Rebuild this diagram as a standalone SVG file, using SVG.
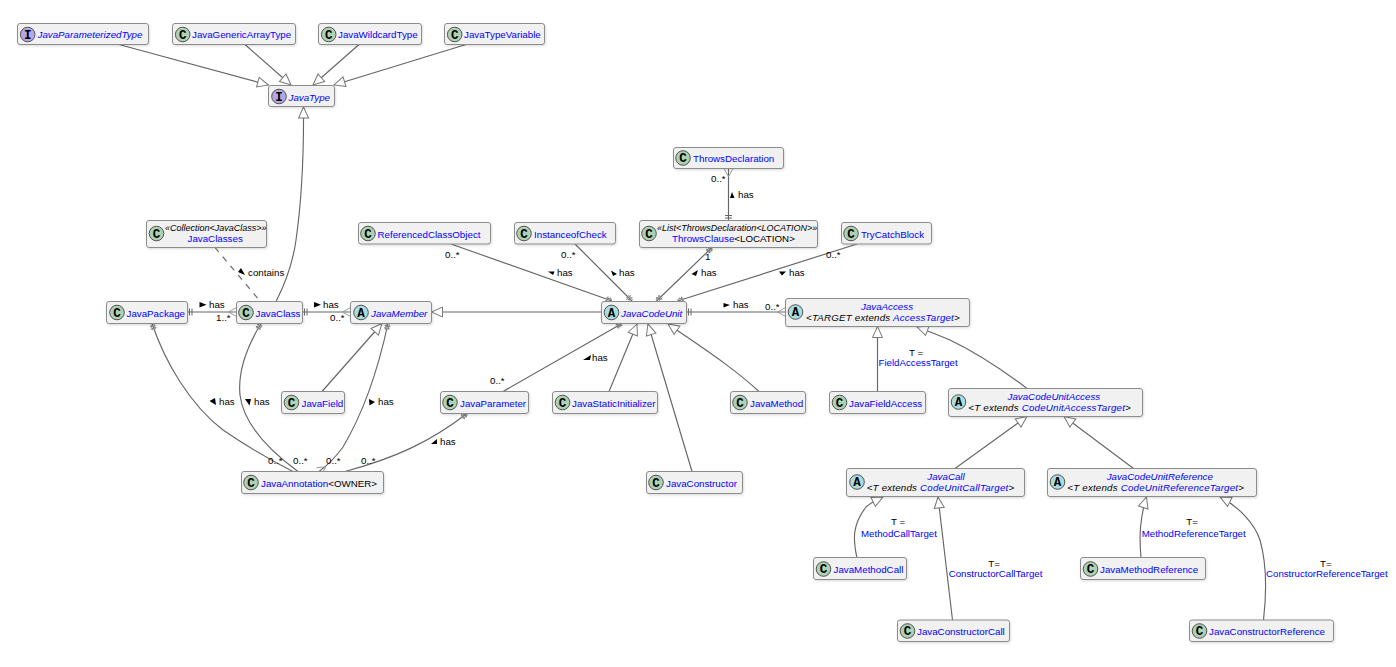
<svg xmlns="http://www.w3.org/2000/svg" width="1396" height="667" viewBox="0 0 1396 667">
<defs>
<filter id="sh" x="-10%" y="-20%" width="120%" height="150%"><feDropShadow dx="0.8" dy="1.2" stdDeviation="0.8" flood-color="#000" flood-opacity="0.14"/></filter>
<marker id="tri" markerUnits="userSpaceOnUse" markerWidth="16" markerHeight="14" refX="13" refY="7" orient="auto"><path d="M2 2 L13 7 L2 12 Z" fill="#fff" stroke="#777" stroke-width="1"/></marker>
<marker id="bars" markerUnits="userSpaceOnUse" markerWidth="12" markerHeight="12" refX="10" refY="6" orient="auto-start-reverse"><path d="M5.500 2.500V9.500M8 2.500V9.500" fill="none" stroke="#666" stroke-width="1"/></marker>
<marker id="crow" markerUnits="userSpaceOnUse" markerWidth="12" markerHeight="12" refX="10" refY="6" orient="auto-start-reverse"><path d="M2 6L10 1.500M2 6L10 10.500" fill="none" stroke="#999" stroke-width="1"/></marker>
<marker id="star" markerUnits="userSpaceOnUse" markerWidth="12" markerHeight="12" refX="10" refY="6" orient="auto-start-reverse"><path d="M5 3V9M7.500 3V9M3.500 4.500H9.500M3.500 7.500H9.500" fill="none" stroke="#8a8a8a" stroke-width="1"/></marker>
</defs>
<style>
.n{fill:#f1f1f1;stroke:#8c8c8c;stroke-width:1;filter:url(#sh)}
.t{font-family:"Liberation Sans",Arial,sans-serif;font-size:9.75px;fill:#0000ff}
.i{font-style:italic}
.k{fill:#000}
.s{font-size:9px;font-style:italic;fill:#000}
.c{stroke:#444;stroke-width:0.9}
.C{fill:#add1b2}.A{fill:#a9dcdf}.I{fill:#b4a7e5}
.g{font-family:"Liberation Mono",monospace;font-size:12.5px;font-weight:bold;fill:#000;text-anchor:middle}
.l{font-family:"Liberation Sans",Arial,sans-serif;font-size:9.75px;fill:#000}
.lk{font-family:"Liberation Sans",Arial,sans-serif;font-size:9.7px;fill:#0000ff}
#links path{fill:none;stroke:#666;stroke-width:1.15}
.d{stroke-dasharray:6 6}
.ar{fill:#000;stroke:none}
</style>
<g id="links">
<path marker-end="url(#tri)" d="M119 44.500L268.500 85"/>
<path marker-end="url(#tri)" d="M245 44.500L291 85"/>
<path marker-end="url(#tri)" d="M359 44.500L313 85"/>
<path marker-end="url(#tri)" d="M466 44.500L334 85"/>
<path marker-end="url(#tri)" d="M276 301.500C287 280 293 262 296 240C301 205 304 170 303.500 107"/>
<path class="d" d="M215 247.500L260 301"/>
<path marker-start="url(#bars)" marker-end="url(#crow)" d="M187.500 312H236.500"/>
<path marker-start="url(#bars)" marker-end="url(#crow)" d="M302.500 312H350.500"/>
<path marker-end="url(#tri)" d="M601.500 312H431.500"/>
<path marker-end="url(#tri)" d="M322 391.500L382 323.500"/>
<path marker-start="url(#star)" d="M152 323.500C165 362 190 405 223 430C245 445 270 460 293 471.500"/>
<path marker-start="url(#star)" d="M261 323.500C245 350 238 375 240 395C243 420 262 445 298 471.500"/>
<path marker-start="url(#star)" marker-end="url(#crow)" d="M388 323.500C378 370 365 410 343 447C335 458 328 465 319 471.500"/>
<path marker-start="url(#star)" d="M467 413.500C430 442 395 458 345 471.500"/>
<path marker-end="url(#star)" d="M451 244L612 301"/>
<path marker-end="url(#star)" d="M575 244L632 301"/>
<path marker-start="url(#star)" marker-end="url(#star)" d="M712 247.500L656.500 301"/>
<path marker-end="url(#star)" d="M857 244L677.500 301"/>
<path marker-start="url(#crow)" marker-end="url(#bars)" d="M728.500 168.500V220"/>
<path marker-start="url(#bars)" marker-end="url(#crow)" d="M686.500 312H785.500"/>
<path marker-start="url(#star)" d="M622 323.500L503 391.500"/>
<path marker-end="url(#tri)" d="M609 391.500L637 324"/>
<path marker-end="url(#tri)" d="M692 471.500L648 324"/>
<path marker-end="url(#tri)" d="M759 391.500C730 365 698 345 668 324"/>
<path marker-end="url(#tri)" d="M877.500 391.500V326.500"/>
<path marker-end="url(#tri)" d="M1027 388.500C1000 368 975 352 950 340C938 335 928 331 917 327"/>
<path marker-end="url(#tri)" d="M955 468.500L1027 416.500"/>
<path marker-end="url(#tri)" d="M1133.500 468.500L1064 416.500"/>
<path marker-end="url(#tri)" d="M857 558C853 540 852 525 866 507C870 503 875 501 883 497"/>
<path marker-end="url(#tri)" d="M952.500 620L938 497"/>
<path marker-end="url(#tri)" d="M1141 558C1139 535 1140 518 1146.500 497"/>
<path marker-end="url(#tri)" d="M1263.500 620C1267 590 1267 565 1260 540C1255 525 1240 507 1220 497"/>
</g>
<g id="JavaParameterizedType"><rect class="n" x="17.500" y="23.500" width="131" height="21" rx="2.500"/><circle class="c I" cx="27.700" cy="34.500" r="7.300"/><text class="g" x="27.700" y="38.500">I</text><text class="t i" x="37.500" y="38">JavaParameterizedType</text></g>
<g id="JavaGenericArrayType"><rect class="n" x="172.500" y="23.500" width="123" height="21" rx="2.500"/><circle class="c C" cx="182.700" cy="34.500" r="7.300"/><text class="g" x="182.700" y="38.500">C</text><text class="t" x="192" y="38">JavaGenericArrayType</text></g>
<g id="JavaWildcardType"><rect class="n" x="318.500" y="23.500" width="103" height="21" rx="2.500"/><circle class="c C" cx="328.700" cy="34.500" r="7.300"/><text class="g" x="328.700" y="38.500">C</text><text class="t" x="338" y="38">JavaWildcardType</text></g>
<g id="JavaTypeVariable"><rect class="n" x="444.500" y="23.500" width="100" height="21" rx="2.500"/><circle class="c C" cx="454.700" cy="34.500" r="7.300"/><text class="g" x="454.700" y="38.500">C</text><text class="t" x="464" y="38">JavaTypeVariable</text></g>
<g id="JavaType"><rect class="n" x="268.500" y="85.500" width="66" height="21" rx="2.500"/><circle class="c I" cx="279" cy="96.500" r="7.300"/><text class="g" x="279" y="100.500">I</text><text class="t i" x="288.500" y="100.500">JavaType</text></g>
<g id="JavaClasses"><rect class="n" x="146.500" y="220.500" width="120" height="27" rx="2.500"/><circle class="c C" cx="156.500" cy="233.500" r="7.300"/><text class="g" x="156.500" y="237.500">C</text><text class="t s" x="165" y="231">«Collection&lt;JavaClass&gt;»</text><text class="t" x="187.500" y="242">JavaClasses</text></g>
<g id="ReferencedClassObject"><rect class="n" x="358.500" y="222.500" width="132" height="21.500" rx="2.500"/><circle class="c C" cx="368" cy="233.500" r="7.300"/><text class="g" x="368" y="237.500">C</text><text class="t" x="377.500" y="237.500">ReferencedClassObject</text></g>
<g id="InstanceofCheck"><rect class="n" x="514.500" y="222.500" width="101" height="21.500" rx="2.500"/><circle class="c C" cx="524" cy="233.500" r="7.300"/><text class="g" x="524" y="237.500">C</text><text class="t" x="534" y="237.500">InstanceofCheck</text></g>
<g id="ThrowsDeclaration"><rect class="n" x="673.500" y="147.500" width="110" height="21" rx="2.500"/><circle class="c C" cx="683" cy="158" r="7.300"/><text class="g" x="683" y="162">C</text><text class="t" x="693" y="162">ThrowsDeclaration</text></g>
<g id="ThrowsClause"><rect class="n" x="639.500" y="220.500" width="178" height="27" rx="2.500"/><circle class="c C" cx="649" cy="233.500" r="7.300"/><text class="g" x="649" y="237.500">C</text><text class="t s" x="657" y="231">«List&lt;ThrowsDeclaration&lt;LOCATION&gt;»</text><text class="t" x="672" y="242">ThrowsClause<tspan class="k">&lt;LOCATION&gt;</tspan></text></g>
<g id="TryCatchBlock"><rect class="n" x="841.500" y="222.500" width="90" height="21.500" rx="2.500"/><circle class="c C" cx="851" cy="233.500" r="7.300"/><text class="g" x="851" y="237.500">C</text><text class="t" x="861" y="237.500">TryCatchBlock</text></g>
<g id="JavaPackage"><rect class="n" x="106.500" y="301.500" width="81" height="22" rx="2.500"/><circle class="c C" cx="117" cy="312.500" r="7.300"/><text class="g" x="117" y="316.500">C</text><text class="t" x="126.500" y="316.500">JavaPackage</text></g>
<g id="JavaClass"><rect class="n" x="236.500" y="301.500" width="66" height="22" rx="2.500"/><circle class="c C" cx="246" cy="312.500" r="7.300"/><text class="g" x="246" y="316.500">C</text><text class="t" x="255.500" y="316.500">JavaClass</text></g>
<g id="JavaMember"><rect class="n" x="350.500" y="301.500" width="81" height="22" rx="2.500"/><circle class="c A" cx="361" cy="312.500" r="7.300"/><text class="g" x="361" y="316.500">A</text><text class="t i" x="371" y="316.500">JavaMember</text></g>
<g id="JavaCodeUnit"><rect class="n" x="601.500" y="301.500" width="85" height="22" rx="2.500"/><circle class="c A" cx="611.500" cy="312.500" r="7.300"/><text class="g" x="611.500" y="316.500">A</text><text class="t i" x="621" y="316.500">JavaCodeUnit</text></g>
<g id="JavaAccess"><rect class="n" x="785.500" y="298.500" width="184" height="28" rx="2.500"/><circle class="c A" cx="795.500" cy="312" r="7.300"/><text class="g" x="795.500" y="316">A</text><text class="t i" x="861" y="310">JavaAccess</text><text class="t i" x="806" y="321" letter-spacing="0.200"><tspan class="k">&lt;TARGET extends </tspan>AccessTarget<tspan class="k">&gt;</tspan></text></g>
<g id="JavaField"><rect class="n" x="281.500" y="391.500" width="63" height="22" rx="2.500"/><circle class="c C" cx="291.500" cy="402.500" r="7.300"/><text class="g" x="291.500" y="406.500">C</text><text class="t" x="301.500" y="406.500">JavaField</text></g>
<g id="JavaParameter"><rect class="n" x="440.500" y="391.500" width="88" height="22" rx="2.500"/><circle class="c C" cx="450" cy="402.500" r="7.300"/><text class="g" x="450" y="406.500">C</text><text class="t" x="460" y="406.500">JavaParameter</text></g>
<g id="JavaStaticInitializer"><rect class="n" x="552.500" y="391.500" width="105" height="22" rx="2.500"/><circle class="c C" cx="562.500" cy="402.500" r="7.300"/><text class="g" x="562.500" y="406.500">C</text><text class="t" x="572" y="406.500">JavaStaticInitializer</text></g>
<g id="JavaMethod"><rect class="n" x="730.500" y="391.500" width="75" height="22" rx="2.500"/><circle class="c C" cx="740" cy="402.500" r="7.300"/><text class="g" x="740" y="406.500">C</text><text class="t" x="750" y="406.500">JavaMethod</text></g>
<g id="JavaFieldAccess"><rect class="n" x="829.500" y="391.500" width="96" height="22" rx="2.500"/><circle class="c C" cx="839.500" cy="402.500" r="7.300"/><text class="g" x="839.500" y="406.500">C</text><text class="t" x="849" y="406.500">JavaFieldAccess</text></g>
<g id="JavaCodeUnitAccess"><rect class="n" x="948.500" y="388.500" width="194" height="28" rx="2.500"/><circle class="c A" cx="958.500" cy="402" r="7.300"/><text class="g" x="958.500" y="406">A</text><text class="t i" x="1007.500" y="400">JavaCodeUnitAccess</text><text class="t i" x="968.300" y="411" letter-spacing="0.200"><tspan class="k">&lt;T extends </tspan>CodeUnitAccessTarget<tspan class="k">&gt;</tspan></text></g>
<g id="JavaAnnotation"><rect class="n" x="241.500" y="471.500" width="142" height="22" rx="2.500"/><circle class="c C" cx="251" cy="482.500" r="7.300"/><text class="g" x="251" y="486.500">C</text><text class="t" x="261" y="486.500">JavaAnnotation<tspan class="k">&lt;OWNER&gt;</tspan></text></g>
<g id="JavaConstructor"><rect class="n" x="646.500" y="471.500" width="96" height="22" rx="2.500"/><circle class="c C" cx="656" cy="482.500" r="7.300"/><text class="g" x="656" y="486.500">C</text><text class="t" x="666" y="486.500">JavaConstructor</text></g>
<g id="JavaCall"><rect class="n" x="846.500" y="468.500" width="178" height="28" rx="2.500"/><circle class="c A" cx="857" cy="482" r="7.300"/><text class="g" x="857" y="486">A</text><text class="t i" x="927.300" y="480">JavaCall</text><text class="t i" x="866.700" y="491" letter-spacing="0.200"><tspan class="k">&lt;T extends </tspan>CodeUnitCallTarget<tspan class="k">&gt;</tspan></text></g>
<g id="JavaCodeUnitReference"><rect class="n" x="1047.500" y="468.500" width="209" height="28" rx="2.500"/><circle class="c A" cx="1057.500" cy="482" r="7.300"/><text class="g" x="1057.500" y="486">A</text><text class="t i" x="1106.700" y="480">JavaCodeUnitReference</text><text class="t i" x="1067.300" y="491" letter-spacing="0.200"><tspan class="k">&lt;T extends </tspan>CodeUnitReferenceTarget<tspan class="k">&gt;</tspan></text></g>
<g id="JavaMethodCall"><rect class="n" x="813.500" y="557.500" width="93" height="22" rx="2.500"/><circle class="c C" cx="823.500" cy="569" r="7.300"/><text class="g" x="823.500" y="573">C</text><text class="t" x="833.500" y="573">JavaMethodCall</text></g>
<g id="JavaMethodReference"><rect class="n" x="1080.500" y="557.500" width="125" height="22" rx="2.500"/><circle class="c C" cx="1090.500" cy="569" r="7.300"/><text class="g" x="1090.500" y="573">C</text><text class="t" x="1100" y="573">JavaMethodReference</text></g>
<g id="JavaConstructorCall"><rect class="n" x="897.500" y="620" width="112" height="21.500" rx="2.500"/><circle class="c C" cx="907.500" cy="631" r="7.300"/><text class="g" x="907.500" y="635">C</text><text class="t" x="917" y="635">JavaConstructorCall</text></g>
<g id="JavaConstructorReference"><rect class="n" x="1189.500" y="620" width="144" height="21.500" rx="2.500"/><circle class="c C" cx="1199.500" cy="631" r="7.300"/><text class="g" x="1199.500" y="635">C</text><text class="t" x="1209" y="635">JavaConstructorReference</text></g>
<g id="labels">
<path class="ar" d="M238 272l3-4 4 7z"/><text class="l" x="248" y="276">contains</text>
<path class="ar" d="M199.500 302v5.500l7-2.700z"/><text class="l" x="209" y="308">has</text>
<path class="ar" d="M314 302v5.500l7-2.700z"/><text class="l" x="323" y="308">has</text>
<text class="l" x="216" y="321">1..*</text><text class="l" x="330" y="321">0..*</text>
<path class="ar" d="M209.500 401l5.500-3 1 7z"/><text class="l" x="219" y="405">has</text>
<path class="ar" d="M245 399h6l-1.500 6.500z"/><text class="l" x="254" y="405">has</text>
<path class="ar" d="M369 399l6 3-5.500 3.500z"/><text class="l" x="378" y="405">has</text>
<path class="ar" d="M431 444l6-5v5z"/><text class="l" x="440" y="445">has</text>
<text class="l" x="268" y="464">0..*</text><text class="l" x="293" y="464">0..*</text><text class="l" x="326" y="464">0..*</text><text class="l" x="361" y="464">0..*</text>
<text class="l" x="490" y="384">0..*</text>
<path class="ar" d="M583 360l8-5-1 5z"/><text class="l" x="592" y="361">has</text>
<text class="l" x="445" y="258">0..*</text>
<path class="ar" d="M548 271.500h6.500l-1.500 3.500z"/><text class="l" x="557" y="276">has</text>
<text class="l" x="561" y="258">0..*</text>
<path class="ar" d="M611 270.500l6 3.500-4 2z"/><text class="l" x="619" y="276">has</text>
<text class="l" x="705" y="260">1</text>
<path class="ar" d="M691.500 274l6.500-4-2 6z"/><text class="l" x="701" y="276">has</text>
<text class="l" x="826" y="258">0..*</text>
<path class="ar" d="M779 271.500h7l-4 4z"/><text class="l" x="789" y="276">has</text>
<text class="l" x="711" y="182">0..*</text>
<path class="ar" d="M730 198l2-6 2.500 6z"/><text class="l" x="738" y="198">has</text>
<path class="ar" d="M723.500 303l6.500 2-6.500 2.500z"/><text class="l" x="733" y="308">has</text>
<text class="l" x="765" y="310">0..*</text>
<text class="l" x="909" y="356">T =</text><text class="lk" x="878.500" y="366">FieldAccessTarget</text>
<text class="l" x="891" y="525">T =</text><text class="lk" x="861" y="536.500">MethodCallTarget</text>
<text class="l" x="988.300" y="566.500">T=</text><text class="lk" x="948.700" y="577">ConstructorCallTarget</text>
<text class="l" x="1186.300" y="525">T=</text><text class="lk" x="1141.700" y="536.500">MethodReferenceTarget</text>
<text class="l" x="1320" y="566.500">T=</text><text class="lk" x="1266" y="577">ConstructorReferenceTarget</text>
</g>
</svg>
